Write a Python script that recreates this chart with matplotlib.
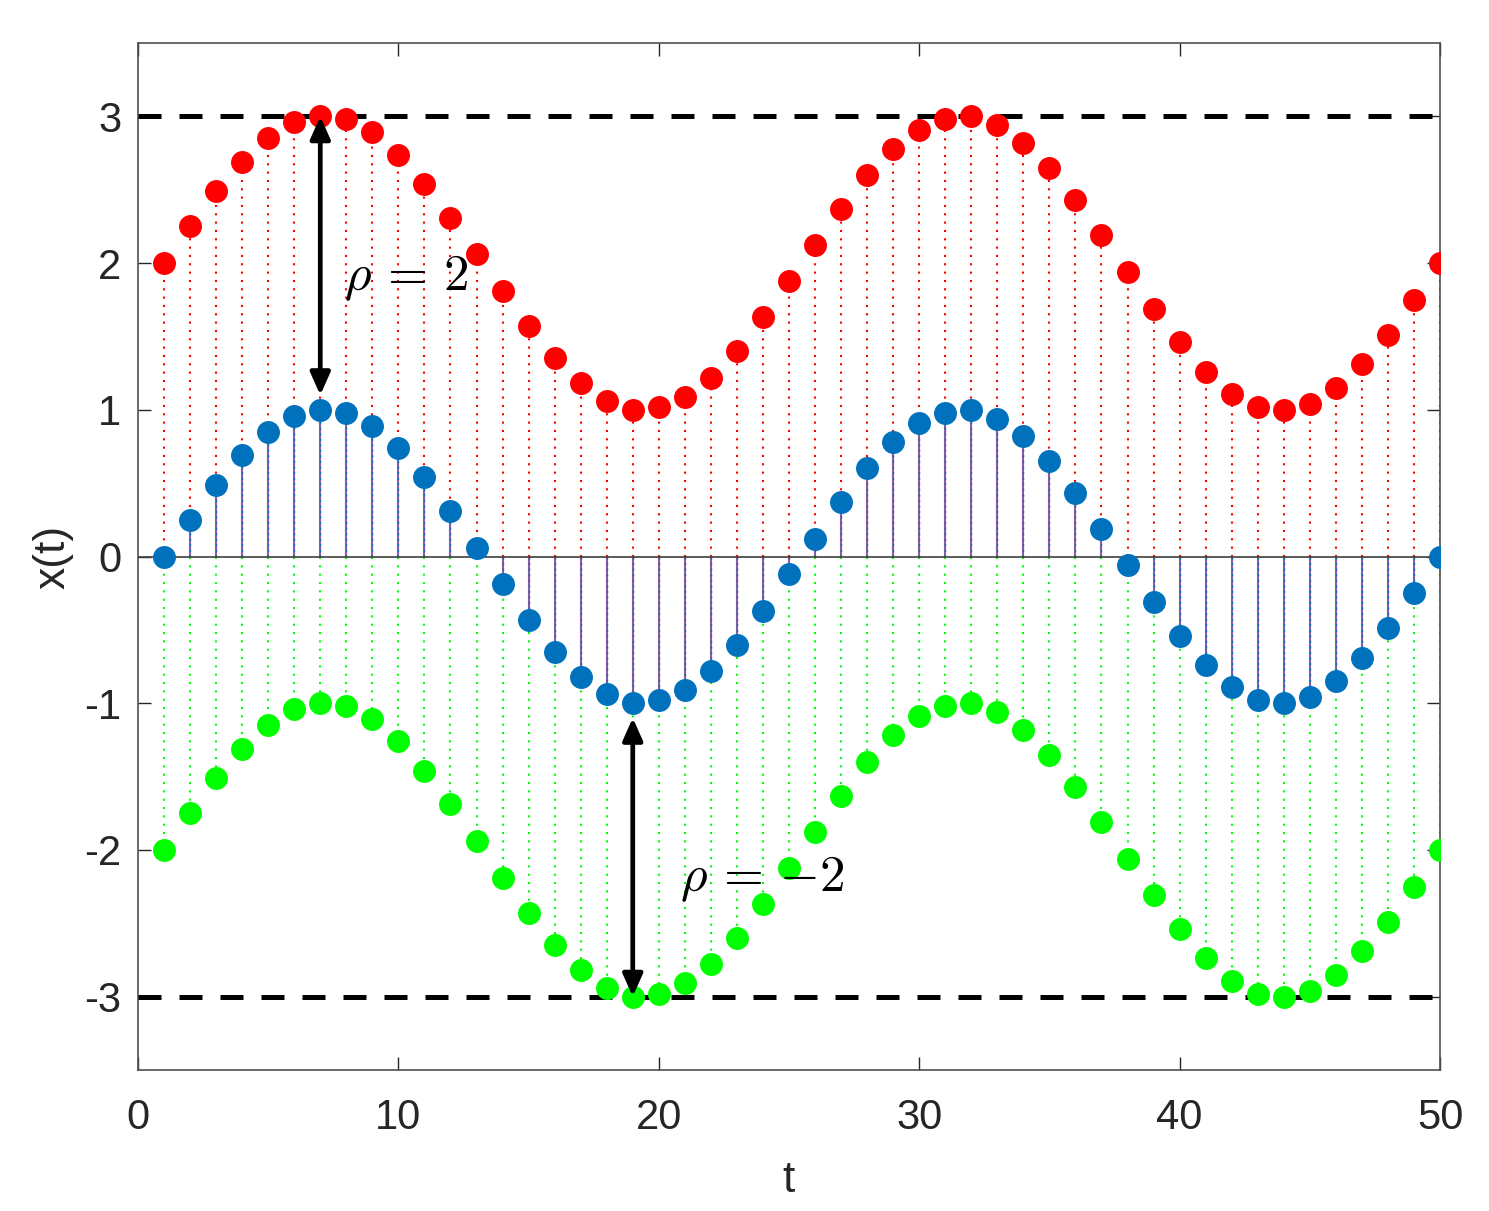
import matplotlib
matplotlib.use("Agg")
from matplotlib import pyplot as plt
import numpy as np

plt.rcParams['font.family'] = ['Liberation Sans', 'DejaVu Sans']
plt.rcParams['mathtext.fontset'] = 'cm'
plt.rcParams['axes.unicode_minus'] = False

# sampled signal x(t), t = 1..50
t = list(range(1, 51))
x_blue = [0.00, 0.25, 0.49, 0.69, 0.85, 0.96, 1.00, 0.98, 0.89, 0.74,
          0.54, 0.31, 0.06, -0.19, -0.43, -0.65, -0.82, -0.94, -1.00, -0.98,
          -0.91, -0.78, -0.60, -0.37, -0.12, 0.12, 0.37, 0.60, 0.78, 0.91,
          0.98, 1.00, 0.94, 0.82, 0.65, 0.43, 0.19, -0.06, -0.31, -0.54,
          -0.74, -0.89, -0.98, -1.00, -0.96, -0.85, -0.69, -0.49, -0.25, 0.00]
# shifted by rho = 2
x_red = [2.00, 2.25, 2.49, 2.69, 2.85, 2.96, 3.00, 2.98, 2.89, 2.74,
         2.54, 2.31, 2.06, 1.81, 1.57, 1.35, 1.18, 1.06, 1.00, 1.02,
         1.09, 1.22, 1.40, 1.63, 1.88, 2.12, 2.37, 2.60, 2.78, 2.91,
         2.98, 3.00, 2.94, 2.82, 2.65, 2.43, 2.19, 1.94, 1.69, 1.46,
         1.26, 1.11, 1.02, 1.00, 1.04, 1.15, 1.31, 1.51, 1.75, 2.00]
# shifted by rho = -2
x_green = [-2.00, -1.75, -1.51, -1.31, -1.15, -1.04, -1.00, -1.02, -1.11, -1.26,
           -1.46, -1.69, -1.94, -2.19, -2.43, -2.65, -2.82, -2.94, -3.00, -2.98,
           -2.91, -2.78, -2.60, -2.37, -2.12, -1.88, -1.63, -1.40, -1.22, -1.09,
           -1.02, -1.00, -1.06, -1.18, -1.35, -1.57, -1.81, -2.06, -2.31, -2.54,
           -2.74, -2.89, -2.98, -3.00, -2.96, -2.85, -2.69, -2.49, -2.25, -2.00]

BOUNDS = [3, -3]
XTICKS = [0, 10, 20, 30, 40, 50]
YTICKS = [-3, -2, -1, 0, 1, 2, 3]

BLUE = '#0072BD'
RED = '#FF0000'
GREEN = '#00FF00'
TXT = '#262626'

fig = plt.figure(figsize=(14.89, 12.11), dpi=100)
ax = fig.add_axes([138/1489, 1 - 1070/1211, (1440-138)/1489, (1070-43)/1211])

dotted = (0, (1.0, 3.0))
ax.vlines(t, 0, x_red, colors=RED, linestyles=dotted, linewidth=1.5, zorder=2)
ax.vlines(t, 0, x_green, colors=GREEN, linestyles=dotted, linewidth=1.5, zorder=2)
ax.vlines(t, 0, x_blue, colors='#8A5CA8', linewidth=1.5, zorder=3)
ax.vlines(t, 0, x_blue, colors=BLUE, linestyles=(0, (1.5, 2.5)), linewidth=1.0, zorder=3)
ax.axhline(0, color='#404040', linewidth=1.2, zorder=3)

ms = 15.5
ax.plot(t, x_red, 'o', color=RED, markersize=ms, zorder=5)
ax.plot(t, x_green, 'o', color=GREEN, markersize=ms, zorder=5)
ax.plot(t, x_blue, 'o', color=BLUE, markersize=ms, zorder=5)

for b in BOUNDS:
    ax.plot([0, 50], [b, b], color='black', linewidth=3.6, linestyle=(0, (4.6, 3.6)), zorder=4)

arrow = dict(arrowstyle='<|-|>,head_length=0.9,head_width=0.4', color='black',
             lw=3.4, mutation_scale=15, shrinkA=0, shrinkB=0)
ax.annotate('', xy=(7, 3.0), xytext=(7, 1.1), arrowprops=arrow, zorder=6)
ax.annotate('', xy=(19, -3.0), xytext=(19, -1.1), arrowprops=arrow, zorder=6)
ax.text(7.9, 1.9, r'$\rho\,=\,2$', fontsize=37, va='center', ha='left', zorder=7)
ax.text(20.8, -2.2, r'$\rho\,=\,{-2}$', fontsize=37, va='center', ha='left', zorder=7)

ax.set_xlim(0, 50)
ax.set_ylim(-3.5, 3.5)
ax.set_xticks(XTICKS)
ax.set_yticks(YTICKS)
ax.tick_params(direction='in', length=9.5, width=1.0, color=TXT, labelcolor=TXT,
               labelsize=30, top=True, right=True)
ax.tick_params(axis='x', pad=20)
ax.tick_params(axis='y', pad=12)
for s in ax.spines.values():
    s.set_color('#505050')
    s.set_linewidth(1.2)
ax.set_xlabel('t', fontsize=32, color=TXT, labelpad=16)
ax.set_ylabel('x(t)', fontsize=32, color=TXT, labelpad=8)

plt.savefig('out.png', dpi=100)
